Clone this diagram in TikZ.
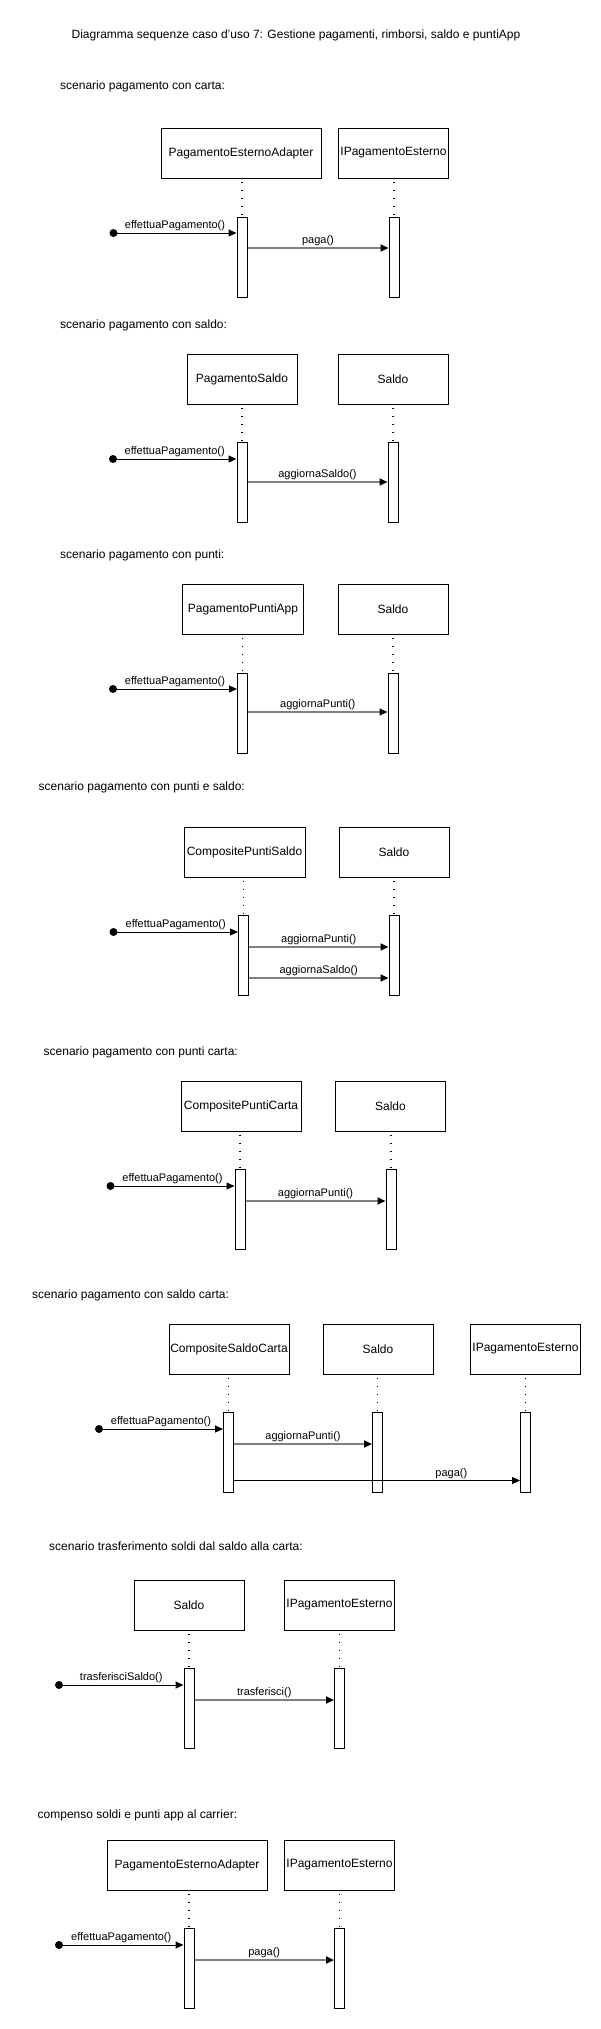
\documentclass[tikz,border=0pt]{standalone}
\usepackage{fontspec}
\setmainfont{Liberation Sans}
\usetikzlibrary{arrows.meta}
\definecolor{msggray}{RGB}{128,128,128}
\tikzset{
  obj/.style={draw, line width=1pt, minimum height=50pt, inner sep=0pt, font=\fontsize{12}{14}\selectfont},
  act/.style={draw, line width=1pt, fill=white, minimum width=10pt, minimum height=80pt, inner sep=0pt, anchor=north},
  startdot/.style={circle, fill=black, minimum size=8pt, inner sep=0pt},
  lifeline/.style={line width=1.6pt, dash pattern=on 1.6pt off 6.4pt, dash phase=-3pt},
  callmsg/.style={line width=1pt, -{Triangle[length=8pt,width=7pt]}},
  innermsg/.style={line width=1.8pt, draw=msggray, -{Triangle[length=8pt,width=7pt,color=black]}},
  msglabel/.style={font=\fontsize{11}{13}\selectfont, above=1.5pt, inner sep=0pt},
  heading/.style={anchor=west, inner sep=0pt, font=\fontsize{12}{14}\selectfont},
}
\begin{document}
\begin{tikzpicture}[x=1pt,y=-1pt]
\useasboundingbox[fill=white] (0,0) rectangle (601,2029);
\node[inner sep=0pt, font=\fontsize{12}{14}\selectfont] (title) at (296,35) {Diagramma sequenze caso d'uso 7: Gestione pagamenti, rimborsi, saldo e puntiApp};

% ---------- scene 1
\node[heading] (h1) at (60,86) {scenario pagamento con carta:};
\node[obj, minimum width=160pt] (s1a) at (241,153) {PagamentoEsternoAdapter};
\node[obj, minimum width=110pt] (s1b) at (393.5,153) {IPagamentoEsterno};
\node[act] (s1aa) at (242,217) {};
\node[act] (s1ba) at (394,217) {};
\draw[lifeline] (s1aa.north |- s1a.south) -- (s1aa.north);
\draw[lifeline] (s1ba.north |- s1b.south) -- (s1ba.north);
\node[startdot] (s1d) at (113.5,233) {};
\coordinate (s1m2) at (0,248);
\draw[callmsg] (s1d.center) -- (s1d -| s1aa.west) node[msglabel, midway] {effettuaPagamento()};
\draw[innermsg] (s1aa.east |- s1m2) -- (s1ba.west |- s1m2) node[msglabel, midway] {paga()};

% ---------- scene 2
\node[heading] (h2) at (60,325) {scenario pagamento con saldo:};
\node[obj, minimum width=110pt] (s2a) at (242,379) {PagamentoSaldo};
\node[obj, minimum width=110pt] (s2b) at (393,379) {Saldo};
\node[act] (s2aa) at (242,442) {};
\node[act] (s2ba) at (393,442) {};
\draw[lifeline] (s2aa.north |- s2a.south) -- (s2aa.north);
\draw[lifeline] (s2ba.north |- s2b.south) -- (s2ba.north);
\node[startdot] (s2d) at (113,459) {};
\coordinate (s2m2) at (0,482);
\draw[callmsg] (s2d.center) -- (s2d -| s2aa.west) node[msglabel, midway] {effettuaPagamento()};
\draw[innermsg] (s2aa.east |- s2m2) -- (s2ba.west |- s2m2) node[msglabel, midway] {aggiornaSaldo()};

% ---------- scene 3
\node[heading] (h3) at (60,555) {scenario pagamento con punti:};
\node[obj, minimum width=121pt] (s3a) at (243,609) {PagamentoPuntiApp};
\node[obj, minimum width=110pt] (s3b) at (393,609) {Saldo};
\node[act] (s3aa) at (242.5,673) {};
\node[act] (s3ba) at (393,673) {};
\draw[lifeline] (s3aa.north |- s3a.south) -- (s3aa.north);
\draw[lifeline] (s3ba.north |- s3b.south) -- (s3ba.north);
\node[startdot] (s3d) at (113,689) {};
\coordinate (s3m2) at (0,712);
\draw[callmsg] (s3d.center) -- (s3d -| s3aa.west) node[msglabel, midway] {effettuaPagamento()};
\draw[innermsg] (s3aa.east |- s3m2) -- (s3ba.west |- s3m2) node[msglabel, midway] {aggiornaPunti()};

% ---------- scene 4
\node[heading] (h4) at (38.5,787) {scenario pagamento con punti e saldo:};
\node[obj, minimum width=121pt] (s4a) at (244.5,852) {CompositePuntiSaldo};
\node[obj, minimum width=110pt] (s4b) at (394,852) {Saldo};
\node[act] (s4aa) at (243.5,915) {};
\node[act] (s4ba) at (394,915) {};
\draw[lifeline] (s4aa.north |- s4a.south) -- (s4aa.north);
\draw[lifeline] (s4ba.north |- s4b.south) -- (s4ba.north);
\node[startdot] (s4d) at (113.5,932) {};
\coordinate (s4m2) at (0,947);
\coordinate (s4m3) at (0,978);
\draw[callmsg] (s4d.center) -- (s4d -| s4aa.west) node[msglabel, midway] {effettuaPagamento()};
\draw[innermsg] (s4aa.east |- s4m2) -- (s4ba.west |- s4m2) node[msglabel, midway] {aggiornaPunti()};
\draw[innermsg] (s4aa.east |- s4m3) -- (s4ba.west |- s4m3) node[msglabel, midway] {aggiornaSaldo()};

% ---------- scene 5
\node[heading] (h5) at (43.5,1052) {scenario pagamento con punti carta:};
\node[obj, minimum width=120pt] (s5a) at (241,1106) {CompositePuntiCarta};
\node[obj, minimum width=110pt] (s5b) at (390.5,1106) {Saldo};
\node[act] (s5aa) at (240,1169) {};
\node[act] (s5ba) at (391,1169) {};
\draw[lifeline] (s5aa.north |- s5a.south) -- (s5aa.north);
\draw[lifeline] (s5ba.north |- s5b.south) -- (s5ba.north);
\node[startdot] (s5d) at (110.5,1186) {};
\coordinate (s5m2) at (0,1201);
\draw[callmsg] (s5d.center) -- (s5d -| s5aa.west) node[msglabel, midway] {effettuaPagamento()};
\draw[innermsg] (s5aa.east |- s5m2) -- (s5ba.west |- s5m2) node[msglabel, midway] {aggiornaPunti()};

% ---------- scene 6
\node[heading] (h6) at (32,1295) {scenario pagamento con saldo carta:};
\node[obj, minimum width=120pt] (s6a) at (229,1349) {CompositeSaldoCarta};
\node[obj, minimum width=110pt] (s6b) at (378,1349) {Saldo};
\node[obj, minimum width=110pt] (s6c) at (525.5,1349) {IPagamentoEsterno};
\node[act] (s6aa) at (228.5,1412) {};
\node[act] (s6ba) at (377.5,1412) {};
\node[act] (s6ca) at (525.5,1412) {};
\draw[lifeline] (s6aa.north |- s6a.south) -- (s6aa.north);
\draw[lifeline] (s6ba.north |- s6b.south) -- (s6ba.north);
\draw[lifeline] (s6ca.north |- s6c.south) -- (s6ca.north);
\node[startdot] (s6d) at (99,1429) {};
\coordinate (s6m2) at (0,1444);
\coordinate (s6m3) at (0,1480.5);
\draw[callmsg] (s6d.center) -- (s6d -| s6aa.west) node[msglabel, midway] {effettuaPagamento()};
\draw[innermsg] (s6aa.east |- s6m2) -- (s6ba.west |- s6m2) node[msglabel, midway] {aggiornaPunti()};
\draw[callmsg] (s6aa.east |- s6m3) -- (s6ca.west |- s6m3) node[msglabel, pos=0.76] {paga()};

% ---------- scene 7
\node[heading] (h7) at (49,1546) {scenario trasferimento soldi dal saldo alla carta:};
\node[obj, minimum width=110pt] (s7a) at (189,1605) {Saldo};
\node[obj, minimum width=110pt] (s7b) at (339.5,1605) {IPagamentoEsterno};
\node[act] (s7aa) at (189,1668) {};
\node[act] (s7ba) at (339.5,1668) {};
\draw[lifeline] (s7aa.north |- s7a.south) -- (s7aa.north);
\draw[lifeline] (s7ba.north |- s7b.south) -- (s7ba.north);
\node[startdot] (s7d) at (59,1685) {};
\coordinate (s7m2) at (0,1700);
\draw[callmsg] (s7d.center) -- (s7d -| s7aa.west) node[msglabel, midway] {trasferisciSaldo()};
\draw[innermsg] (s7aa.east |- s7m2) -- (s7ba.west |- s7m2) node[msglabel, midway] {trasferisci()};

% ---------- scene 8
\node[heading] (h8) at (37.5,1815) {compenso soldi e punti app al carrier:};
\node[obj, minimum width=160pt] (s8a) at (187,1865) {PagamentoEsternoAdapter};
\node[obj, minimum width=110pt] (s8b) at (339.5,1865) {IPagamentoEsterno};
\node[act] (s8aa) at (189,1928) {};
\node[act] (s8ba) at (339.5,1928) {};
\draw[lifeline] (s8aa.north |- s8a.south) -- (s8aa.north);
\draw[lifeline] (s8ba.north |- s8b.south) -- (s8ba.north);
\node[startdot] (s8d) at (59,1945) {};
\coordinate (s8m2) at (0,1960);
\draw[callmsg] (s8d.center) -- (s8d -| s8aa.west) node[msglabel, midway] {effettuaPagamento()};
\draw[innermsg] (s8aa.east |- s8m2) -- (s8ba.west |- s8m2) node[msglabel, midway] {paga()};
\end{tikzpicture}
\end{document}
